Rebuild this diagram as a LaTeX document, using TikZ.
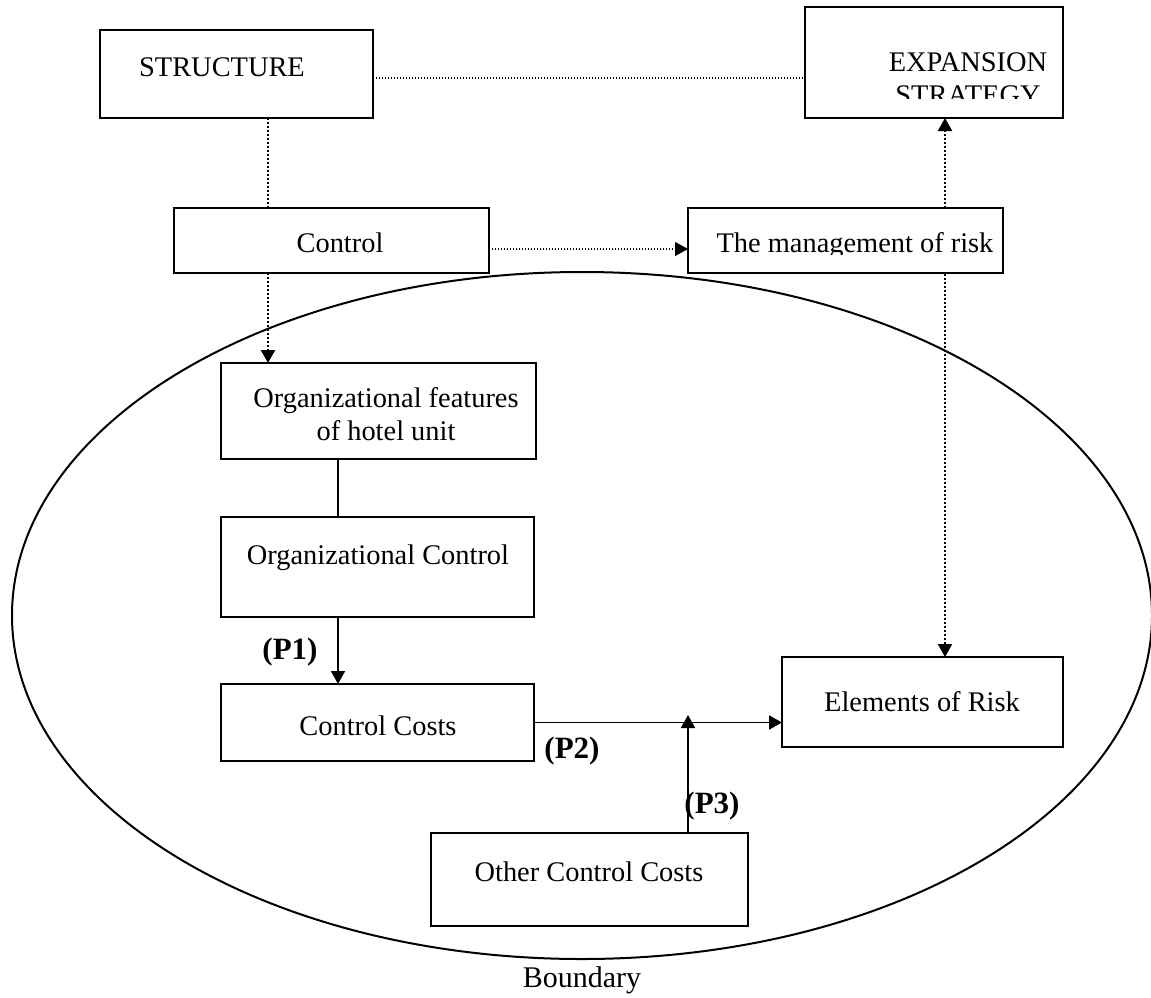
\documentclass[tikz,border=0pt]{standalone}
\usepackage{fontspec}
\setmainfont{Liberation Serif}
\usetikzlibrary{arrows.meta,backgrounds}
\begin{document}
\begin{tikzpicture}[x=0.5pt,y=-0.5pt,
  box/.style={draw, line width=1pt, fill=white, inner sep=0pt, outer sep=0pt},
  txt/.style={anchor=base, inner sep=0pt, align=center, font=\fontsize{14.2pt}{16.5pt}\selectfont},
  plabel/.style={anchor=base, inner sep=0pt, font=\fontsize{15.5pt}{18pt}\selectfont\bfseries},
  dotthin/.style={line width=0.6pt, dash pattern=on 0.7pt off 0.8pt},
  dotthick/.style={line width=1.1pt, dash pattern=on 1pt off 1pt},
  link/.style={line width=0.9pt},
  tip/.style={-{Triangle[length=6.5pt,width=7pt]}},
  tips/.style={{Triangle[length=6.5pt,width=7pt]}-{Triangle[length=6.5pt,width=7pt]}}
]
\useasboundingbox (0,0) rectangle (1151,997);

% boxes
\node[box, minimum width=136.5pt, minimum height=44pt]   (struct) at (236.5,74) {};
\node[box, minimum width=129pt,   minimum height=55.5pt] (exp)    at (934,62.5) {};
\node[box, minimum width=157.5pt, minimum height=32.5pt] (ctrl)   at (331.5,240.5) {};
\node[box, minimum width=157.5pt, minimum height=32.5pt] (mgmt)   at (845.5,240.5) {};
\node[box, minimum width=157.5pt, minimum height=48pt]   (feat)   at (378.5,411) {};
\node[box, minimum width=156.5pt, minimum height=50pt]   (orgc)   at (377.5,567) {};
\node[box, minimum width=156.5pt, minimum height=38.5pt] (costs)  at (377.5,722.5) {};
\node[box, minimum width=140.5pt, minimum height=45pt]   (elem)   at (922.5,702) {};
\node[box, minimum width=158.5pt, minimum height=46.5pt] (other)  at (589.5,879.5) {};

% box texts (two-line texts sit on the baseline of their last line)
\node[txt] (structT) at (222,76.5) {STRUCTURE};
\begin{scope}
  \clip (805,7) rectangle (1063,98);
  \node[txt] (expT) at (968,104) {EXPANSION\\STRATEGY};
\end{scope}
\node[txt] (ctrlT) at (340,252) {Control};
\begin{scope}
  \clip (688,208) rectangle (1003,254);
  \node[txt] (mgmtT) at (855,252) {The management of risk};
\end{scope}
\node[txt] (featT)  at (386,440) {Organizational features\\of hotel unit};
\node[txt] (orgcT)  at (378,564) {Organizational Control};
\node[txt] (costsT) at (378,735) {Control Costs};
\node[txt] (elemT)  at (922,711) {Elements of Risk};
\node[txt] (otherT) at (589,881) {Other Control Costs};

% path labels
\node[plabel] (p1) at (290,659) {(P1)};
\node[plabel] (p2) at (572,758) {(P2)};
\node[plabel] (p3) at (712,813) {(P3)};
\node[txt, font=\fontsize{15pt}{18pt}\selectfont] (bnd) at (582,987) {Boundary};

% anchor points for the connectors
\coordinate (sR) at ([yshift=-2pt]struct.east);
\coordinate (sD) at ([xshift=15.75pt]struct.south);
\coordinate (cR) at ([yshift=-4.25pt]ctrl.east);
\coordinate (eD) at ([xshift=5.5pt]exp.south);
\coordinate (fD) at ([xshift=-20.25pt]feat.south);
\coordinate (oU) at ([xshift=49.25pt]other.north);
\coordinate (jn) at (oU |- costs.east);

\begin{scope}[on background layer]
  % system boundary
  \draw[line width=1pt] (582,615.5) ellipse [x radius=285pt, y radius=171.75pt];
  % dotted links
  \draw[dotthin] (sR) -- (sR -| exp.west);
  \draw[dotthick] (sD) -- (sD |- ctrl.north);
  \draw[dotthick, tips] (eD) -- (eD |- elem.north);
\end{scope}

\draw[dotthick, tip] (sD |- ctrl.south) -- (sD |- feat.north);
\draw[dotthin, tip] (cR) -- (cR -| mgmt.west);

% solid links
\draw[link] (fD) -- (fD |- orgc.north);
\draw[link, tip] (fD |- orgc.south) -- (fD |- costs.north);
\draw[link, tip] (costs.east) -- (costs.east -| elem.west);
\draw[link, tip] (oU) -- ([yshift=3.75pt]jn);
\end{tikzpicture}
\end{document}
